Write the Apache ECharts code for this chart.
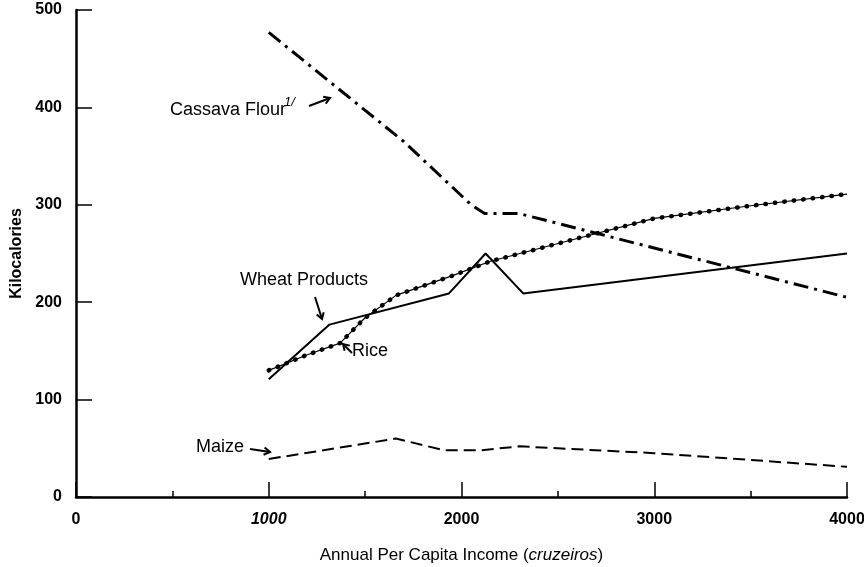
<!DOCTYPE html>
<html>
<head>
<meta charset="utf-8">
<script src="https://cdn.jsdelivr.net/npm/echarts@6/dist/echarts.min.js"></script>
<style>
  html, body { margin: 0; padding: 0; background: #fff; }
  #chart { width: 864px; height: 567px; }
</style>
</head>
<body>
<div id="chart"></div>
<script>
// data: [income, kilocalories]
var cassavaFlour = [[1000, 477], [1700, 365], [2050, 300], [2120, 291], [2300, 291], [4000, 205]];
var wheatProducts = [[1000, 121], [1315, 177], [1935, 209], [2125, 250], [2320, 209], [4000, 250]];
var rice = [[1000, 130], [1200, 146], [1370, 158], [1500, 184], [1660, 207], [1950, 227], [2150, 242], [2650, 268], [3000, 286], [3500, 299], [4000, 311]];
var maize = [[1000, 39], [1660, 60], [1910, 48], [2100, 48], [2300, 52], [3000, 45], [4000, 31]];

var xTicks = [0, 1000, 2000, 3000, 4000];
var yTicks = [0, 100, 200, 300, 400, 500];

var font = '"Liberation Sans", Arial, sans-serif';

// little hand drawn arrow: shaft + open head
function arrow(x1, y1, x2, y2) {
  var a = Math.atan2(y2 - y1, x2 - x1);
  var h = 7;
  return [
    { type: 'line', shape: { x1: x1, y1: y1, x2: x2, y2: y2 }, style: { stroke: '#000', lineWidth: 2 } },
    {
      type: 'polyline',
      shape: {
        points: [
          [x2 - h * Math.cos(a - 0.55), y2 - h * Math.sin(a - 0.55)],
          [x2, y2],
          [x2 - h * Math.cos(a + 0.55), y2 - h * Math.sin(a + 0.55)]
        ]
      },
      style: { stroke: '#000', lineWidth: 2, fill: null }
    }
  ];
}

function label(txt, x, y, f) {
  return { type: 'text', x: x, y: y, style: { text: txt, font: f || ('18px ' + font), fill: '#000', verticalAlign: 'middle' } };
}

var notes = [
  label('Cassava Flour', 170, 110),
  label('1/', 284, 102, 'italic 13px ' + font),
  label('Wheat Products', 240, 280),
  label('Rice', 352, 351),
  label('Maize', 196, 447)
]
  .concat(arrow(309, 106, 330, 98))
  .concat(arrow(315, 297, 322, 319))
  .concat(arrow(352, 353, 343, 344))
  .concat(arrow(250, 449, 270, 452));

var myChart = echarts.init(document.getElementById('chart'));
myChart.setOption({
  backgroundColor: '#fff',
  animation: false,
  grid: { left: 76, right: 17, top: 10, bottom: 70, outerBoundsMode: 'none', containLabel: false },
  xAxis: {
    type: 'value',
    min: xTicks[0],
    max: xTicks[xTicks.length - 1],
    interval: 1000,
    name: '{a|Annual Per Capita Income (}{b|cruzeiros}{a|)}',
    nameLocation: 'middle',
    nameGap: 50,
    nameTextStyle: {
      rich: {
        a: { fontFamily: font, fontSize: 17, color: '#000' },
        b: { fontFamily: font, fontSize: 17, color: '#000', fontStyle: 'italic' }
      }
    },
    axisLine: { lineStyle: { color: '#000', width: 2.5 } },
    axisTick: { inside: true, length: 15, lineStyle: { color: '#000', width: 1.5 } },
    minorTick: { show: true, splitNumber: 2, length: 6, lineStyle: { color: '#000', width: 1.5 } },
    splitLine: { show: false },
    axisLabel: {
      margin: 15,
      color: '#000',
      fontFamily: font,
      fontSize: 16,
      fontWeight: 'bold',
      formatter: function (v) {
        return v === 1000 ? '{i|' + v + '}' : String(v);
      },
      rich: { i: { fontStyle: 'italic', fontWeight: 'bold', fontSize: 16, fontFamily: font, color: '#000' } }
    }
  },
  yAxis: {
    type: 'value',
    min: yTicks[0],
    max: yTicks[yTicks.length - 1],
    interval: 100,
    name: 'Kilocalories',
    nameLocation: 'middle',
    nameRotate: 90,
    nameGap: 51,
    nameTextStyle: { fontFamily: font, fontSize: 16, fontWeight: 'bold', color: '#000' },
    axisLine: { show: true, lineStyle: { color: '#000', width: 2.5 } },
    axisTick: { show: true, inside: true, length: 16, lineStyle: { color: '#000', width: 1.5 } },
    splitLine: { show: false },
    axisLabel: { margin: 14, color: '#000', fontFamily: font, fontSize: 16, fontWeight: 'bold' }
  },
  series: [
    {
      name: 'Cassava Flour',
      type: 'line',
      data: cassavaFlour,
      symbol: 'none',
      lineStyle: { color: '#000', width: 3, type: [15, 6, 3, 6] }
    },
    {
      name: 'Wheat Products',
      type: 'line',
      data: wheatProducts,
      symbol: 'none',
      lineStyle: { color: '#000', width: 2 }
    },
    {
      name: 'Rice',
      type: 'line',
      data: rice,
      symbol: 'none',
      lineStyle: { color: '#000', width: 1.2 }
    },
    {
      name: 'Rice dots',
      type: 'line',
      data: rice,
      symbol: 'none',
      lineStyle: { color: '#000', width: 4.5, type: [0.5, 9], cap: 'round' }
    },
    {
      name: 'Maize',
      type: 'line',
      data: maize,
      symbol: 'none',
      lineStyle: { color: '#000', width: 2, type: [12, 6] }
    }
  ],
  graphic: notes
});
</script>
</body>
</html>
